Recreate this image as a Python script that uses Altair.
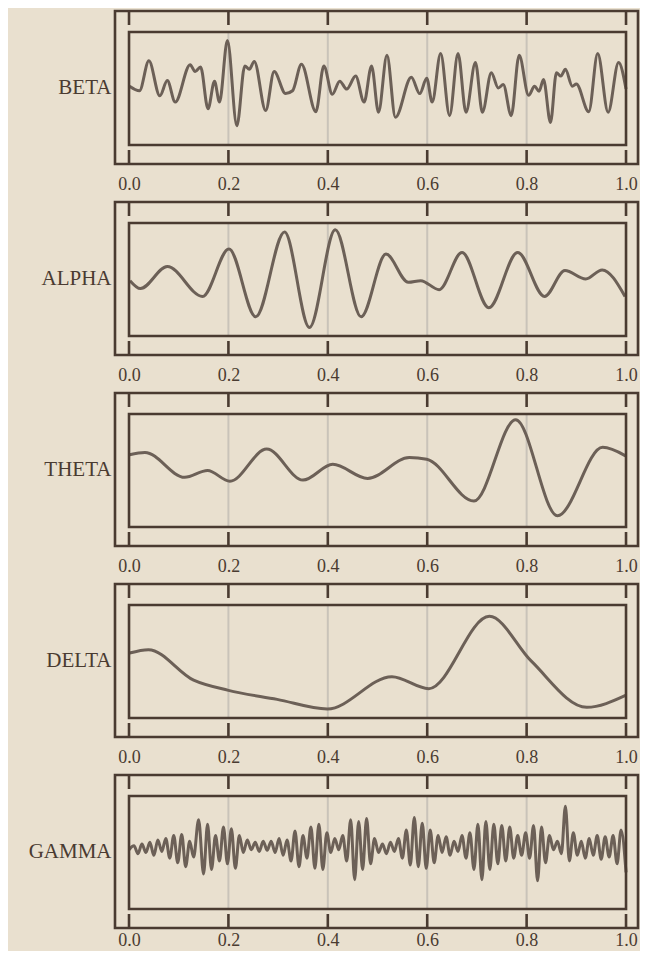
import altair as alt
import pandas as pd

NAMES = ["BETA", "ALPHA", "THETA", "DELTA", "GAMMA"]
TICKS = [0.0, 0.2, 0.4, 0.6, 0.8, 1.0]
GRID = [0.2, 0.4, 0.6, 0.8]

BETA_X = [0.001, 0.021, 0.040, 0.062, 0.077, 0.093, 0.123, 0.133, 0.144, 0.159, 0.172, 0.182,
          0.198, 0.217, 0.233, 0.242, 0.252, 0.275, 0.292, 0.315, 0.329, 0.347, 0.376, 0.392,
          0.409, 0.424, 0.438, 0.456, 0.473, 0.488, 0.502, 0.519, 0.536, 0.568, 0.585, 0.599,
          0.610, 0.627, 0.645, 0.662, 0.678, 0.697, 0.711, 0.729, 0.743, 0.753, 0.769, 0.785,
          0.804, 0.816, 0.825, 0.834, 0.848, 0.860, 0.869, 0.878, 0.892, 0.900, 0.925, 0.943,
          0.964, 0.985, 1.000]
BETA_Y = [0.04, -0.04, 0.49, -0.13, 0.14, -0.24, 0.42, 0.30, 0.38, -0.36, 0.13, -0.24,
          0.85, -0.66, 0.40, 0.34, 0.48, -0.39, 0.30, -0.09, -0.04, 0.43, -0.41, 0.40,
          -0.10, 0.13, -0.01, 0.22, -0.24, 0.40, -0.42, 0.59, -0.51, 0.20, -0.09, 0.18,
          -0.24, 0.62, -0.48, 0.62, -0.42, 0.46, -0.42, 0.28, 0.01, 0.07, -0.48, 0.59,
          -0.12, 0.04, -0.05, 0.16, -0.60, 0.28, 0.22, 0.34, 0.04, 0.08, -0.41, 0.62,
          -0.42, 0.46, -0.01]

ALPHA_X = [0.002, 0.023, 0.077, 0.148, 0.201, 0.255, 0.313, 0.363, 0.415, 0.467, 0.517,
           0.562, 0.587, 0.624, 0.670, 0.724, 0.782, 0.836, 0.877, 0.919, 0.952, 0.998]
ALPHA_Y = [-0.02, -0.16, 0.23, -0.30, 0.54, -0.66, 0.84, -0.85, 0.88, -0.66, 0.45,
           -0.05, -0.02, -0.18, 0.48, -0.50, 0.48, -0.30, 0.16, 0.01, 0.17, -0.30]

THETA_X = [0.001, 0.032, 0.112, 0.158, 0.203, 0.277, 0.350, 0.410, 0.480, 0.564, 0.599,
           0.694, 0.778, 0.862, 0.953, 0.999]
THETA_Y = [0.28, 0.32, -0.12, 0.00, -0.19, 0.38, -0.17, 0.11, -0.14, 0.23, 0.20,
           -0.54, 0.90, -0.80, 0.41, 0.26]

DELTA_X = [0.001, 0.039, 0.130, 0.200, 0.298, 0.399, 0.529, 0.603, 0.725, 0.809, 0.921, 0.999]
DELTA_Y = [0.15, 0.21, -0.33, -0.51, -0.67, -0.84, -0.27, -0.48, 0.80, 0.01, -0.81, -0.60]

GAMMA_X = [0.000, 0.010, 0.018, 0.026, 0.034, 0.042, 0.050, 0.058, 0.066, 0.074, 0.082, 0.090,
           0.098, 0.106, 0.114, 0.122, 0.130, 0.140, 0.150, 0.158, 0.166, 0.174, 0.182, 0.190,
           0.198, 0.206, 0.214, 0.222, 0.230, 0.238, 0.246, 0.254, 0.262, 0.270, 0.278, 0.286,
           0.294, 0.302, 0.310, 0.318, 0.326, 0.334, 0.342, 0.350, 0.358, 0.366, 0.374, 0.382,
           0.390, 0.398, 0.406, 0.414, 0.422, 0.430, 0.438, 0.446, 0.454, 0.462, 0.470, 0.478,
           0.486, 0.494, 0.502, 0.510, 0.518, 0.526, 0.534, 0.542, 0.550, 0.558, 0.566, 0.574,
           0.582, 0.590, 0.598, 0.606, 0.614, 0.622, 0.630, 0.638, 0.646, 0.654, 0.662, 0.670,
           0.678, 0.686, 0.694, 0.702, 0.710, 0.718, 0.726, 0.734, 0.742, 0.750, 0.758, 0.766,
           0.774, 0.782, 0.790, 0.798, 0.806, 0.814, 0.822, 0.830, 0.838, 0.846, 0.854, 0.862,
           0.870, 0.878, 0.886, 0.894, 0.902, 0.910, 0.918, 0.926, 0.934, 0.942, 0.950, 0.958,
           0.966, 0.974, 0.982, 0.990, 1.000]
GAMMA_Y = [0.05, 0.12, -0.02, 0.15, 0.00, 0.18, -0.05, 0.22, 0.02, 0.25, -0.10, 0.30,
           -0.18, 0.32, -0.25, 0.20, -0.08, 0.58, -0.38, 0.50, -0.30, 0.30, -0.15, 0.45,
           -0.20, 0.42, -0.28, 0.30, 0.00, 0.22, 0.05, 0.18, 0.02, 0.20, 0.04, 0.20,
           0.00, 0.25, -0.05, 0.22, -0.15, 0.38, -0.25, 0.30, -0.10, 0.45, -0.28, 0.50,
           -0.30, 0.35, 0.00, 0.25, 0.05, 0.30, -0.15, 0.58, -0.48, 0.55, -0.30, 0.60,
           -0.20, 0.25, 0.00, 0.15, -0.02, 0.18, 0.02, 0.25, -0.10, 0.40, -0.22, 0.62,
           -0.25, 0.52, -0.28, 0.40, -0.18, 0.30, 0.00, 0.28, -0.05, 0.20, 0.02, 0.30,
           -0.10, 0.35, -0.30, 0.50, -0.48, 0.55, -0.30, 0.50, -0.20, 0.48, -0.15, 0.45,
           -0.10, 0.30, -0.05, 0.35, -0.10, 0.48, -0.50, 0.45, -0.18, 0.30, 0.05, 0.20,
           -0.02, 0.82, -0.15, 0.35, -0.05, 0.20, -0.10, 0.25, -0.05, 0.30, -0.12, 0.28,
           -0.08, 0.30, -0.20, 0.40, -0.35]

SERIES = {"BETA": (BETA_X, BETA_Y), "ALPHA": (ALPHA_X, ALPHA_Y), "THETA": (THETA_X, THETA_Y),
          "DELTA": (DELTA_X, DELTA_Y), "GAMMA": (GAMMA_X, GAMMA_Y)}

BG = "#e9e0cf"
DARK = "#4a3b31"
LINE = "#6c6057"
GRIDC = "#c9c3b9"
FONT = "Liberation Serif"

X_DOMAIN = [-0.0282, 1.0241]
Y_DOMAIN = [-1.336, 1.372]
TICK_LEN = 0.248
W, H = 523, 153


def panel(name, label_pad):
    xs, ys = SERIES[name]
    xsc = alt.Scale(domain=X_DOMAIN, nice=False, zero=False)
    ysc = alt.Scale(domain=Y_DOMAIN, nice=False, zero=False)
    xaxis = alt.Axis(values=TICKS, format=".1f", ticks=False, tickSize=0, domain=False, grid=False,
                     labelFont=FONT, labelFontSize=18, labelColor=DARK, labelPadding=label_pad,
                     labelBaseline="middle", labelFlush=False, labelOverlap=False, title=None)
    yaxis = alt.Axis(title=name, titleAngle=0, titleAlign="right", titleBaseline="middle",
                     titleX=-4, titleY=H / 2, titleFont=FONT, titleFontSize=21,
                     titleFontWeight="normal", titleColor=DARK, labels=False, ticks=False,
                     domain=False, grid=False)

    def X(field):
        return alt.X(field, scale=xsc, axis=xaxis)

    def Y(field):
        return alt.Y(field, scale=ysc, axis=yaxis)

    grid_df = pd.DataFrame({"t": GRID, "lo": -1.0, "hi": 1.0})
    grid = alt.Chart(grid_df).mark_rule(color=GRIDC, strokeWidth=2).encode(
        x=X("t:Q"), y=Y("lo:Q"), y2="hi:Q",
    )

    box_df = pd.DataFrame({"t": [0.0], "t1": [1.0], "lo": [-1.0], "hi": [1.0]})
    box = alt.Chart(box_df).mark_rect(fillOpacity=0, stroke=DARK, strokeWidth=2.6).encode(
        x=X("t:Q"), x2="t1:Q", y=Y("lo:Q"), y2="hi:Q",
    )

    top_df = pd.DataFrame({"t": TICKS, "lo": Y_DOMAIN[1] - TICK_LEN, "hi": Y_DOMAIN[1]})
    bot_df = pd.DataFrame({"t": TICKS, "lo": Y_DOMAIN[0], "hi": Y_DOMAIN[0] + TICK_LEN})
    tick_top = alt.Chart(top_df).mark_rule(color=DARK, strokeWidth=2.6).encode(
        x=X("t:Q"), y=Y("lo:Q"), y2="hi:Q",
    )
    tick_bot = alt.Chart(bot_df).mark_rule(color=DARK, strokeWidth=2.6).encode(
        x=X("t:Q"), y=Y("lo:Q"), y2="hi:Q",
    )

    sig_df = pd.DataFrame({"t": xs, "lo": ys})
    sig = alt.Chart(sig_df).mark_line(color=LINE, strokeWidth=3, interpolate="monotone").encode(
        x=X("t:Q"), y=Y("lo:Q"), order="t:Q",
    )

    return alt.layer(grid, sig, box, tick_top, tick_bot).properties(width=W, height=H)


PADS = [20, 20, 20, 20, 12]

chart = alt.vconcat(*[panel(n, p) for n, p in zip(NAMES, PADS)], spacing=38, bounds="flush").properties(
    padding={"left": 18, "top": 0, "right": 0, "bottom": 0},
).configure(background=BG).configure_view(stroke=DARK, strokeWidth=2.6)

chart.save("out.html", embed_options={"renderer": "svg", "actions": False})
